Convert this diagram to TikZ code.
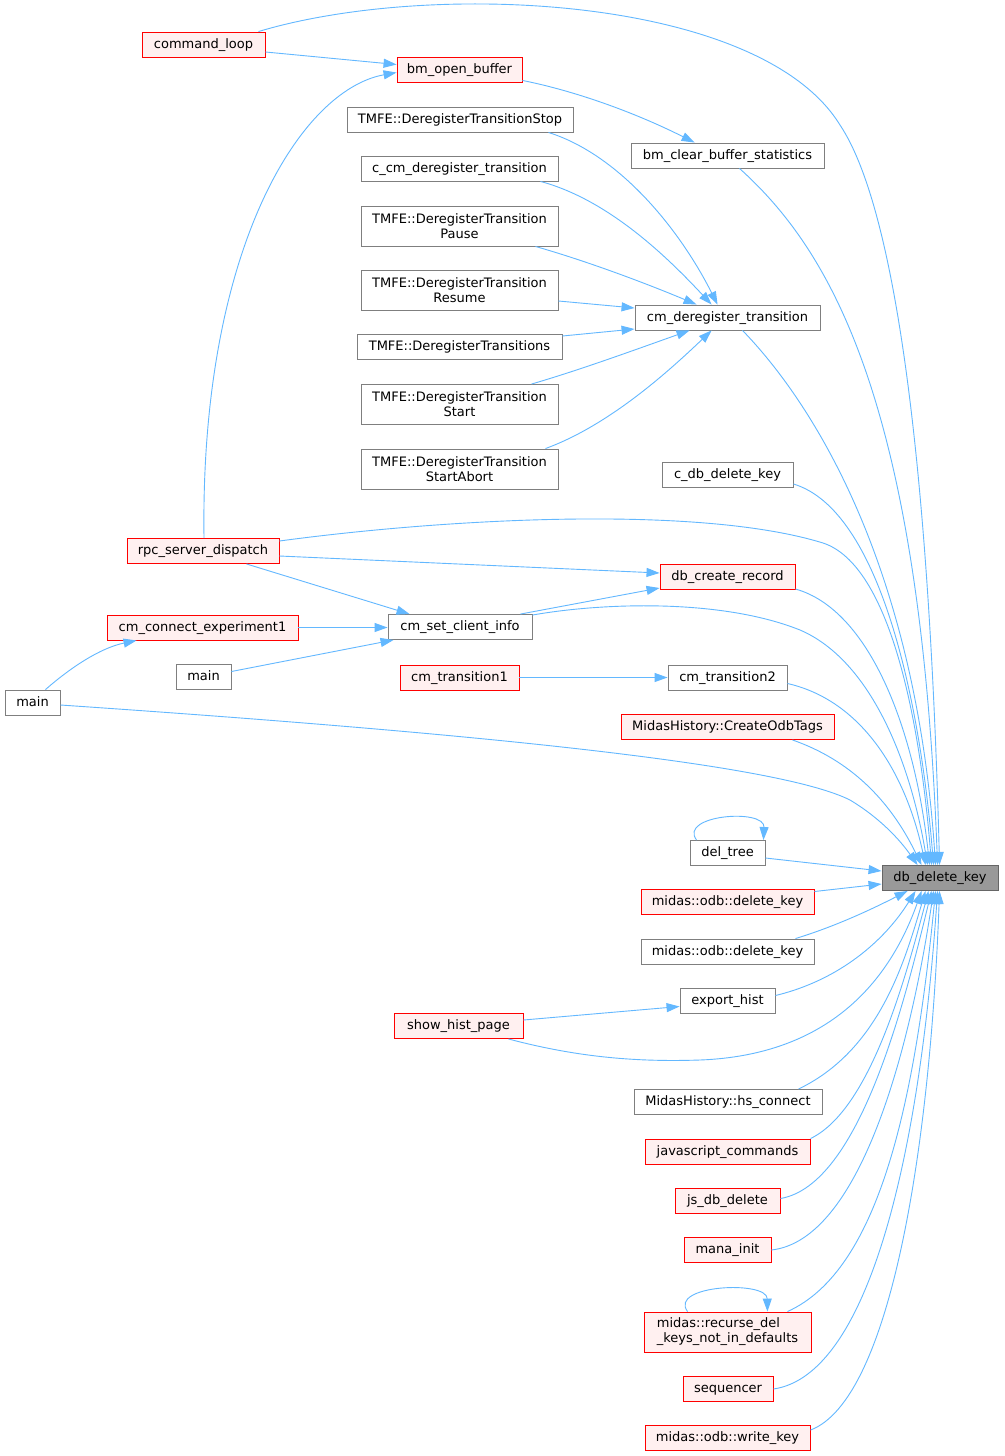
\documentclass[tikz,border=0pt]{standalone}
\usepackage{fontspec}
\setmainfont{DejaVu Sans}
\usetikzlibrary{arrows.meta,calc}
\definecolor{edgecol}{HTML}{63B8FF}
\definecolor{redfill}{HTML}{FFF0F0}
\definecolor{grayb}{HTML}{7F7F7F}
\definecolor{rootb}{HTML}{666666}
\definecolor{rootfill}{HTML}{999999}
\begin{document}
\begin{tikzpicture}[x=1pt,y=-1pt,
  box/.style={rectangle,inner sep=0pt,line width=0.9pt,minimum height=25pt,text height=10pt,text depth=3pt,font=\fontsize{13}{15}\selectfont,text=black},
  rednode/.style={box,draw=red,fill=redfill},
  whnode/.style={box,draw=grayb,fill=white},
  rootnode/.style={box,draw=rootb,fill=rootfill},
  tall/.style={minimum height=40pt,text height=,text depth=,align=center},
  edge/.style={draw=edgecol,line width=0.9pt,-{Triangle[length=13pt,width=9pt]}}]
\useasboundingbox (0,0) rectangle (1004,1456);
\fill[white] (0,0) rectangle (1004,1456);
% nodes
\node[rednode,minimum width=123pt] (cmdloop) at (203.5,44.5) {command\_loop};
\node[rednode,minimum width=125pt] (bmopen) at (459.5,69.5) {bm\_open\_buffer};
\node[whnode,minimum width=226pt] (tstop) at (460,119.5) {TMFE::DeregisterTransitionStop};
\node[whnode,minimum width=193pt] (bmclear) at (727.5,155.5) {bm\_clear\_buffer\_statistics};
\node[whnode,minimum width=197pt] (ccmdereg) at (459.5,168.5) {c\_cm\_deregister\_transition};
\node[whnode,tall,minimum width=197pt] (tpause) at (459.5,226) {TMFE::DeregisterTransition\\Pause};
\node[whnode,tall,minimum width=197pt] (tresume) at (459.5,290) {TMFE::DeregisterTransition\\Resume};
\node[whnode,minimum width=185pt] (cmdereg) at (727.5,317.5) {cm\_deregister\_transition};
\node[whnode,minimum width=205pt] (ttrans) at (459.5,347) {TMFE::DeregisterTransitions};
\node[whnode,tall,minimum width=197pt] (tstart) at (459.5,404.5) {TMFE::DeregisterTransition\\Start};
\node[whnode,tall,minimum width=197pt] (tabort) at (459.5,469) {TMFE::DeregisterTransition\\StartAbort};
\node[whnode,minimum width=131pt] (cdbdel) at (727.5,475) {c\_db\_delete\_key};
\node[rednode,minimum width=152pt] (rpc) at (203,551) {rpc\_server\_dispatch};
\node[rednode,minimum width=135pt] (dbcreate) at (727.5,577) {db\_create\_record};
\node[rednode,minimum width=191pt] (cmconn) at (202.5,627.5) {cm\_connect\_experiment1};
\node[whnode,minimum width=144pt] (cmset) at (460,627) {cm\_set\_client\_info};
\node[whnode,minimum width=55pt] (mainmid) at (203.5,676.5) {main};
\node[rednode,minimum width=119pt] (cmtr1) at (459.5,677.5) {cm\_transition1};
\node[whnode,minimum width=119pt] (cmtr2) at (727.5,677.5) {cm\_transition2};
\node[whnode,minimum width=55pt] (mainleft) at (32.5,702.5) {main};
\node[rednode,minimum width=213pt] (createodb) at (727.5,727) {MidasHistory::CreateOdbTags};
\node[whnode,minimum width=75pt] (deltree) at (727.5,853) {del\_tree};
\node[rootnode,minimum width=116pt] (dbdel) at (940,878) {db\_delete\_key};
\node[rednode,minimum width=173pt] (odbdelred) at (727.5,901.5) {midas::odb::delete\_key};
\node[whnode,minimum width=173pt] (odbdelw) at (727.5,951.5) {midas::odb::delete\_key};
\node[whnode,minimum width=95pt] (exporth) at (727.5,1000.5) {export\_hist};
\node[rednode,minimum width=129pt] (showh) at (458.5,1026) {show\_hist\_page};
\node[whnode,minimum width=188pt] (hsconn) at (728,1102) {MidasHistory::hs\_connect};
\node[rednode,minimum width=165pt] (jscmd) at (727.5,1151.5) {javascript\_commands};
\node[rednode,minimum width=105pt] (jsdb) at (727.5,1200.5) {js\_db\_delete};
\node[rednode,minimum width=87pt] (manainit) at (727.5,1250) {mana\_init};
\node[rednode,minimum height=40pt,text height=,text depth=,minimum width=167pt,align=left] (recurse) at (727.5,1332) {midas::recurse\_del\\\_keys\_not\_in\_defaults};
\node[rednode,minimum width=90pt] (seq) at (728,1389) {sequencer};
\node[rednode,minimum width=165pt] (writek) at (727.5,1438) {midas::odb::write\_key};
% edges into db_delete_key (top)
\draw[edge] ($(cmdloop.north east)+(-7,0)$) .. controls (430,-20) and (760,-5) .. (840,125) .. controls (900,215) and (930,500) .. ($(dbdel.north west)+(58,0)$);
\draw[edge] ($(bmclear.south)+(12,0)$) .. controls (830,250) and (920,400) .. ($(dbdel.north west)+(56,0)$);
\draw[edge] ($(cmdereg.south)+(15,0)$) .. controls (810,400) and (915,560) .. ($(dbdel.north west)+(54,0)$);
\draw[edge] ($(cdbdel.east)+(0,9)$) .. controls (880,510) and (920,700) .. ($(dbdel.north west)+(52,0)$);
\draw[edge] ($(rpc.east)+(0,-10)$) .. controls (450,518) and (700,505) .. (823,543) .. controls (890,565) and (920,720) .. ($(dbdel.north west)+(50,0)$);
\draw[edge] ($(dbcreate.east)+(0,12)$) .. controls (870,610) and (915,730) .. ($(dbdel.north west)+(48,0)$);
\draw[edge] ($(cmset.north east)+(0,1)$) .. controls (600,603) and (720,598) .. (800,630) .. controls (870,660) and (910,760) .. ($(dbdel.north west)+(46,0)$);
\draw[edge] ($(cmtr2.east)+(0,6)$) .. controls (860,700) and (905,770) .. ($(dbdel.north west)+(44,0)$);
\draw[edge] ($(createodb.south east)+(-42,0)$) .. controls (850,760) and (890,800) .. ($(dbdel.north west)+(40,0)$);
\draw[edge] ($(mainleft.east)+(0,2.5)$) .. controls (500,735) and (780,765) .. (850,800) .. controls (880,818) and (900,840) .. ($(dbdel.north west)+(36,0)$);
% side
\draw[edge] ($(deltree.east)+(0,5)$) -- ($(dbdel.west)+(0,-7)$);
\draw[edge] ($(odbdelred.east)+(0,-10)$) -- ($(dbdel.west)+(0,6)$);
% bottom
\draw[edge] ($(odbdelw.north east)+(-19,0)$) .. controls (840,925) and (880,905) .. ($(dbdel.south west)+(26,0)$);
\draw[edge] ($(exporth.east)+(0,-5)$) .. controls (840,980) and (885,940) .. ($(dbdel.south west)+(34,0)$);
\draw[edge] ($(showh.south east)+(-15,0)$) .. controls (580,1058) and (640,1062) .. (700,1060) .. controls (830,1055) and (890,980) .. ($(dbdel.south west)+(40,0)$);
\draw[edge] ($(hsconn.north east)+(-24,0)$) .. controls (880,1050) and (905,960) .. ($(dbdel.south west)+(44,0)$);
\draw[edge] (jscmd.north east) .. controls (870,1110) and (905,980) .. ($(dbdel.south west)+(47,0)$);
\draw[edge] ($(jsdb.east)+(0,-2)$) .. controls (860,1185) and (905,1000) .. ($(dbdel.south west)+(50,0)$);
\draw[edge] (manainit.east) .. controls (860,1240) and (910,1050) .. ($(dbdel.south west)+(52,0)$);
\draw[edge] ($(recurse.north east)+(-24,0)$) .. controls (880,1270) and (915,1100) .. ($(dbdel.south west)+(54,0)$);
\draw[edge] (seq.east) .. controls (870,1375) and (920,1150) .. ($(dbdel.south west)+(56,0)$);
\draw[edge] ($(writek.north east)+(0,5)$) .. controls (890,1400) and (930,1150) .. ($(dbdel.south west)+(58,0)$);
% other edges
\draw[edge] ($(cmdloop.east)+(0,7.5)$) -- ($(bmopen.west)+(0,-5)$);
\draw[edge] ($(rpc.north)+(1,0)$) .. controls (200,250) and (300,90) .. ($(bmopen.west)+(0,3)$);
\draw[edge] ($(bmopen.south east)+(0,-2)$) .. controls (580,92) and (640,115) .. ($(bmclear.north west)+(64,0)$);
\draw[edge] ($(tstop.south east)+(-25,0)$) .. controls (620,155) and (680,230) .. ($(cmdereg.north west)+(83,0)$);
\draw[edge] ($(ccmdereg.south east)+(-18,0)$) .. controls (610,200) and (670,260) .. ($(cmdereg.north west)+(77,0)$);
\draw[edge] ($(tpause.south east)+(-23,0)$) .. controls (590,262) and (650,285) .. ($(cmdereg.north west)+(62,0)$);
\draw[edge] ($(tresume.east)+(0,11)$) -- ($(cmdereg.west)+(0,-9.5)$);
\draw[edge] ($(ttrans.east)+(0,-11)$) -- ($(cmdereg.west)+(0,11.5)$);
\draw[edge] ($(tstart.north east)+(-27,0)$) .. controls (580,370) and (640,348) .. ($(cmdereg.south west)+(55,0)$);
\draw[edge] ($(tabort.north east)+(-13,0)$) .. controls (610,425) and (670,370) .. ($(cmdereg.south west)+(77,0)$);
\draw[edge] ($(rpc.east)+(0,5)$) -- ($(dbcreate.west)+(0,-4)$);
\draw[edge] ($(rpc.south east)+(-33,0)$) -- ($(cmset.north west)+(22,0)$);
\draw[edge] ($(cmset.north east)+(-12,0)$) -- ($(dbcreate.west)+(0,11)$);
\draw[edge] (cmconn.east) -- (cmconn.east -| cmset.west);
\draw[edge] ($(mainmid.east)+(0,-5)$) -- ($(cmset.south west)+(6,0)$);
\draw[edge] ($(mainleft.north)+(13,0)$) .. controls (70,668) and (100,648) .. ($(cmconn.south west)+(30,0)$);
\draw[edge] (cmtr1.east) -- (cmtr2.west);
\draw[edge] ($(showh.east)+(0,-6)$) -- ($(exporth.west)+(0,6)$);
\draw[edge] ($(deltree.north west)+(7,0)$) .. controls (678,815) and (765,808) .. ($(deltree.north east)+(-2,0)$);
\draw[edge] ($(recurse.north west)+(44,0)$) .. controls (668,1285) and (767,1280) .. ($(recurse.north east)+(-44,0)$);
\end{tikzpicture}
\end{document}
